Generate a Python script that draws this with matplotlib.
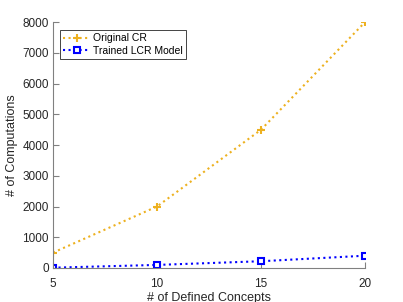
import matplotlib
matplotlib.use("Agg")
import matplotlib.pyplot as plt

concepts = [5, 10, 15, 20]
original_cr = [500, 2000, 4500, 8000]
trained_lcr = [10, 100, 220, 400]

plt.rcParams["font.family"] = ["Liberation Sans", "DejaVu Sans"]

axis_color = "#262626"
fig = plt.figure(figsize=(4.03, 3.02), dpi=100)
ax = fig.add_axes([0.1315, 0.1126, 0.7745, 0.8144])

ax.plot(concepts, original_cr, linestyle=":", color="#EDB120", linewidth=1.5,
        marker="+", markersize=6, markeredgewidth=1.5, label="Original CR")
ax.plot(concepts, trained_lcr, linestyle=":", color="#0000FF", linewidth=1.5,
        marker="s", markersize=5, markerfacecolor="white", markeredgewidth=1.5,
        label="Trained LCR Model")

ax.set_xlim(5, 20)
ax.set_ylim(0, 8000)
ax.set_xticks([5, 10, 15, 20])
ax.set_yticks(range(0, 8001, 1000))

for s in ["top", "right"]:
    ax.spines[s].set_visible(False)
for s in ["left", "bottom"]:
    ax.spines[s].set_color("#808080")
    ax.spines[s].set_linewidth(0.8)
ax.tick_params(direction="in", length=4, colors="#808080", labelcolor=axis_color,
               labelsize=8.5)
ax.tick_params(axis="x", pad=7)
ax.tick_params(axis="y", pad=3)

# x label is partly clipped by the figure edge, as in the original
ax.set_xlabel("# of Defined Concepts", fontsize=9, color=axis_color, labelpad=2)
ax.set_ylabel("# of Computations", fontsize=9, color=axis_color, labelpad=3)

leg = ax.legend(loc="upper left", bbox_to_anchor=(0.022, 0.967), fontsize=7.5,
                borderaxespad=0, fancybox=False, framealpha=1,
                edgecolor=axis_color, handlelength=2.6, borderpad=0.3,
                labelspacing=0.25, handletextpad=0.25)
leg.get_frame().set_linewidth(0.6)

fig.savefig("out.png", dpi=100)
